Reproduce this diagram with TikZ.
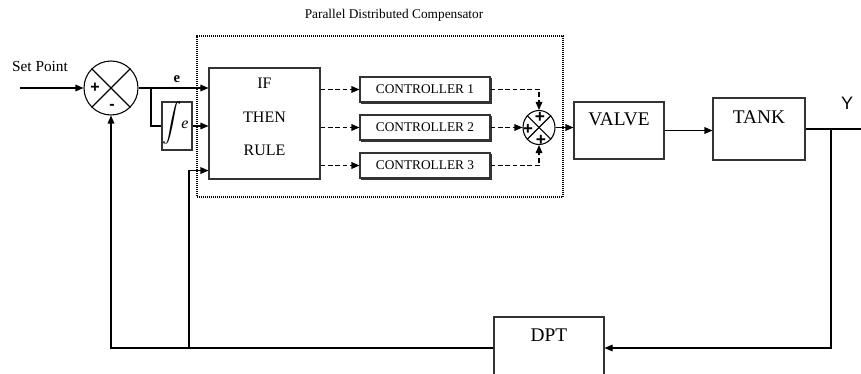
\documentclass[tikz,border=0pt]{standalone}
\usepackage{fontspec}
\setmainfont{Liberation Serif}
\newfontfamily\sansf{Liberation Sans}
\usetikzlibrary{arrows.meta,shapes.geometric,calc}
\newcommand{\fsz}[1]{\fontsize{#1}{#1}\selectfont}
\begin{document}
\begin{tikzpicture}[x=0.75pt,y=-0.75pt,
  line width=0.8pt,
  box/.style={draw=black!80, rectangle, inner sep=0pt},
  arr/.style={-{Triangle[length=6pt,width=5pt]}},
  dsh/.style={dash pattern=on 3.5pt off 2pt},
  ctrl/.style={box, minimum width=97.5pt, minimum height=18.75pt, font=\fsz{10}},
  sgn/.style={font=\sansf\bfseries\fsz{12}, inner sep=0pt},
  lbl/.style={inner sep=0pt},
]
\useasboundingbox (0,0) rectangle (861,374);
\clip (0,0) rectangle (861,374);

% compensator frame and its title
\node[draw, line width=1pt, dash pattern=on 1pt off 0.5pt,
      minimum width=274.5pt, minimum height=120.75pt, inner sep=0pt] (pdc) at (380,116.5) {};
\node[lbl, font=\fsz{10}] (pdctitle) at (394,15) {Parallel Distributed Compensator};

% error summing junction
\node[draw, circle, minimum size=40.5pt, inner sep=0pt] (s1) at (111,88) {};
\draw (s1.45) -- (s1.225);
\draw (s1.135) -- (s1.-45);
\node[sgn] (s1p) at (95,88) {+};
\node[sgn] (s1m) at (112,107) {-};

\node[lbl, font=\fsz{11.5}] (sp) at (40,67) {Set Point};
\coordinate (spin) at (20,88);
\draw[arr] (spin) -- (s1.west);

% integrator
\node[box, minimum width=22.5pt, minimum height=36pt] (ig) at (177,126) {};
\node[lbl, font=\fsz{10}, scale=1.45] (igsym) at (172,123) {$\displaystyle\int$};
\node[lbl, font=\itshape\fsz{12}] (ige) at (185,125) {e};

% rule base
\node[box, minimum width=83.25pt, minimum height=83.25pt] (ifb) at (264.5,123.5) {};
\node[lbl, font=\fsz{12}] (ift1) at (264.5,83) {IF};
\node[lbl, font=\fsz{12}] (ift2) at (264.5,117) {THEN};
\node[lbl, font=\fsz{12}] (ift3) at (264.5,150) {RULE};

% local controllers
\node[ctrl] (c1) at (425,89.5) {CONTROLLER 1};
\node[ctrl] (c2) at (425,127.5) {CONTROLLER 2};
\node[ctrl] (c3) at (425,165.5) {CONTROLLER 3};
\foreach \n in {c1,c2,c3}
  \draw[line width=1.7pt, draw=black!80]
    ($(\n.south west)+(1.5,0.6)$) -- ($(\n.south east)+(0.6,0.6)$) -- ($(\n.north east)+(0.6,1.5)$);

% output summing junction
\node[draw, ellipse, minimum width=24pt, minimum height=25.5pt, inner sep=0pt] (s2) at (539,127.5) {};
\draw (s2.45) -- (s2.225);
\draw (s2.135) -- (s2.-45);
\node[sgn, font=\sansf\bfseries\fsz{13}] (s2a) at (540,117) {+};
\node[sgn, font=\sansf\bfseries\fsz{13}] (s2b) at (528,129) {+};
\node[sgn, font=\sansf\bfseries\fsz{13}] (s2c) at (541,140) {+};

% plant and sensor
\node[box, minimum width=67.5pt, minimum height=42.75pt] (valve) at (619,130.5) {};
\node[lbl, font=\fsz{14.5}] (valvet) at (619,119) {VALVE};
\node[box, minimum width=69pt, minimum height=46.5pt] (tank) at (759,129) {};
\node[lbl, font=\fsz{14.5}] (tankt) at (759,117) {TANK};
\node[box, minimum width=82.5pt, minimum height=46.5pt] (dpt) at (549,348) {};
\node[lbl, font=\fsz{14.5}] (dptt) at (549,335) {DPT};
\node[lbl, font=\sansf\fsz{13.5}] (yl) at (847,103) {Y};

% signal paths
\draw[arr] (s1.east) -- (s1.east -| ifb.west);
\node[lbl, font=\bfseries\fsz{11}] (el) at (177,79) {e};
\coordinate (br) at (151,88);
\draw (br) |- (ig.west);
\draw[arr] (ig.east) -- (ig.east -| ifb.west);
\coordinate (fb2) at (189,348);
\draw[arr] (fb2) |- ($(ifb.south west)+(0,-9)$);

\draw[dsh, arr] (ifb.east |- c1.west) -- (c1.west);
\draw[dsh, arr] (ifb.east |- c2.west) -- (c2.west);
\draw[dsh, arr] (ifb.east |- c3.west) -- (c3.west);

\draw[dsh, arr] (c1.east) -| (s2.north);
\draw[dsh, arr] (c2.east) -- (s2.west);
\draw[dsh, arr] (c3.east) -| (s2.south);

\draw[arr] (s2.east) -- (s2.east -| valve.west);
\draw[arr] (valve.east) -- (valve.east -| tank.west);
\coordinate (yend) at (861,128);
\draw (tank.east) -- (tank.east -| yend);
\coordinate (tb) at (831,129);
\draw[arr] (tb) |- (dpt.east);
\draw[arr] (dpt.west) -| (s1.south);
\end{tikzpicture}
\end{document}
